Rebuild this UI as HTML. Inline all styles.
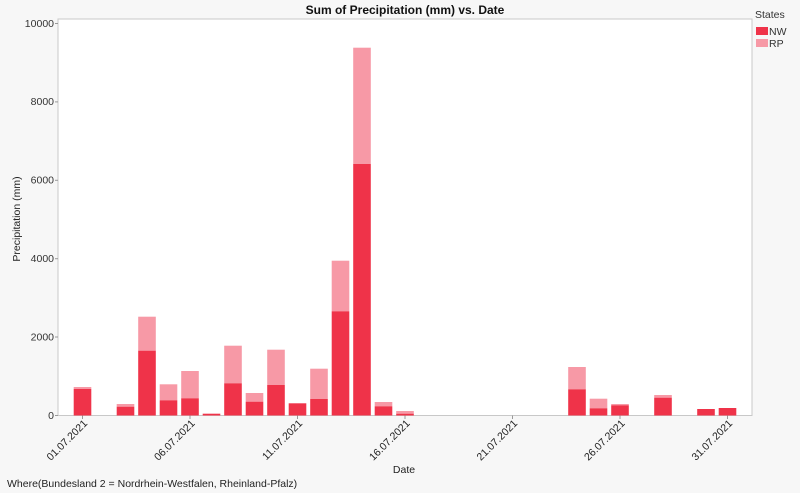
<!DOCTYPE html>
<html><head><meta charset="utf-8"><style>
body{margin:0;background:#f7f7f7;}
svg{display:block;font-family:"Liberation Sans",sans-serif;}
</style></head><body>
<svg width="800" height="493" viewBox="0 0 800 493">
<rect width="800" height="493" fill="#f7f7f7"/>
<rect x="58" y="19" width="694" height="396.5" fill="#fff" stroke="#c8c8c8" stroke-width="1"/>
<text x="405" y="14" font-size="12" font-weight="bold" text-anchor="middle" fill="#111">Sum of Precipitation (mm) vs. Date</text>
<g font-size="10.5" fill="#333" text-anchor="end">
<text x="54" y="419">0</text>
<text x="54" y="340.5">2000</text>
<text x="54" y="262">4000</text>
<text x="54" y="183.5">6000</text>
<text x="54" y="105">8000</text>
<text x="54" y="27">10000</text>
</g>
<g stroke="#999" stroke-width="1">
<line x1="55" y1="415.5" x2="58" y2="415.5"/><line x1="55" y1="337" x2="58" y2="337"/><line x1="55" y1="258.7" x2="58" y2="258.7"/><line x1="55" y1="180.3" x2="58" y2="180.3"/><line x1="55" y1="101.9" x2="58" y2="101.9"/><line x1="55" y1="23.5" x2="58" y2="23.5"/>
</g>
<text transform="translate(20,219) rotate(-90)" font-size="10.5" fill="#222" text-anchor="middle">Precipitation (mm)</text>
<g fill="#f799a6">
<rect x="73.7" y="387" width="17.6" height="2"/>
<rect x="116.7" y="404" width="17.6" height="2.7"/>
<rect x="138.2" y="316.7" width="17.6" height="34"/>
<rect x="159.7" y="384.3" width="17.6" height="16"/>
<rect x="181.2" y="371" width="17.6" height="27.3"/>
<rect x="224.2" y="345.7" width="17.6" height="37.6"/>
<rect x="245.7" y="393" width="17.6" height="8.7"/>
<rect x="267.2" y="349.7" width="17.6" height="35.3"/>
<rect x="310.2" y="368.7" width="17.6" height="30.3"/>
<rect x="331.7" y="260.7" width="17.6" height="50.6"/>
<rect x="353.2" y="47.7" width="17.6" height="116.3"/>
<rect x="374.7" y="402" width="17.6" height="4.3"/>
<rect x="396.2" y="411" width="17.6" height="2.7"/>
<rect x="568.2" y="367" width="17.6" height="22.3"/>
<rect x="589.7" y="398.7" width="17.6" height="9.6"/>
<rect x="611.2" y="404" width="17.6" height="1.3"/>
<rect x="654.2" y="395" width="17.6" height="2.7"/>
</g>
<g fill="#ef3349">
<rect x="73.7" y="389" width="17.6" height="26.5"/>
<rect x="116.7" y="406.7" width="17.6" height="8.8"/>
<rect x="138.2" y="350.7" width="17.6" height="64.8"/>
<rect x="159.7" y="400.3" width="17.6" height="15.2"/>
<rect x="181.2" y="398.3" width="17.6" height="17.2"/>
<rect x="202.7" y="413.7" width="17.6" height="1.8"/>
<rect x="224.2" y="383.3" width="17.6" height="32.2"/>
<rect x="245.7" y="401.7" width="17.6" height="13.8"/>
<rect x="267.2" y="385" width="17.6" height="30.5"/>
<rect x="288.7" y="403.3" width="17.6" height="12.2"/>
<rect x="310.2" y="399" width="17.6" height="16.5"/>
<rect x="331.7" y="311.3" width="17.6" height="104.2"/>
<rect x="353.2" y="164" width="17.6" height="251.5"/>
<rect x="374.7" y="406.3" width="17.6" height="9.2"/>
<rect x="396.2" y="413.7" width="17.6" height="1.8"/>
<rect x="568.2" y="389.3" width="17.6" height="26.2"/>
<rect x="589.7" y="408.3" width="17.6" height="7.2"/>
<rect x="611.2" y="405.3" width="17.6" height="10.2"/>
<rect x="654.2" y="397.7" width="17.6" height="17.8"/>
<rect x="697.2" y="409" width="17.6" height="6.5"/>
<rect x="718.7" y="408" width="17.6" height="7.5"/>
</g>
<g stroke="#999"><line x1="82.5" y1="415.5" x2="82.5" y2="419"/><line x1="190" y1="415.5" x2="190" y2="419"/><line x1="297.5" y1="415.5" x2="297.5" y2="419"/><line x1="405" y1="415.5" x2="405" y2="419"/><line x1="512.5" y1="415.5" x2="512.5" y2="419"/><line x1="620" y1="415.5" x2="620" y2="419"/><line x1="727.5" y1="415.5" x2="727.5" y2="419"/></g>
<g font-size="10.5" fill="#222" text-anchor="end">
<text transform="translate(88,424) rotate(-45)">01.07.2021</text>
<text transform="translate(195.5,424) rotate(-45)">06.07.2021</text>
<text transform="translate(303,424) rotate(-45)">11.07.2021</text>
<text transform="translate(410.5,424) rotate(-45)">16.07.2021</text>
<text transform="translate(518,424) rotate(-45)">21.07.2021</text>
<text transform="translate(625.5,424) rotate(-45)">26.07.2021</text>
<text transform="translate(733,424) rotate(-45)">31.07.2021</text>
</g>
<text x="404" y="473" font-size="10.5" fill="#222" text-anchor="middle">Date</text>
<text x="7" y="487" font-size="10.5" fill="#222">Where(Bundesland 2 = Nordrhein-Westfalen, Rheinland-Pfalz)</text>
<text x="755" y="18" font-size="10.5" fill="#333">States</text>
<rect x="756" y="27" width="12" height="8" fill="#ef3349"/>
<text x="769" y="35" font-size="10.5" fill="#333">NW</text>
<rect x="756" y="39" width="12" height="8" fill="#f799a6"/>
<text x="769" y="47" font-size="10.5" fill="#333">RP</text>
</svg>
</body></html>
